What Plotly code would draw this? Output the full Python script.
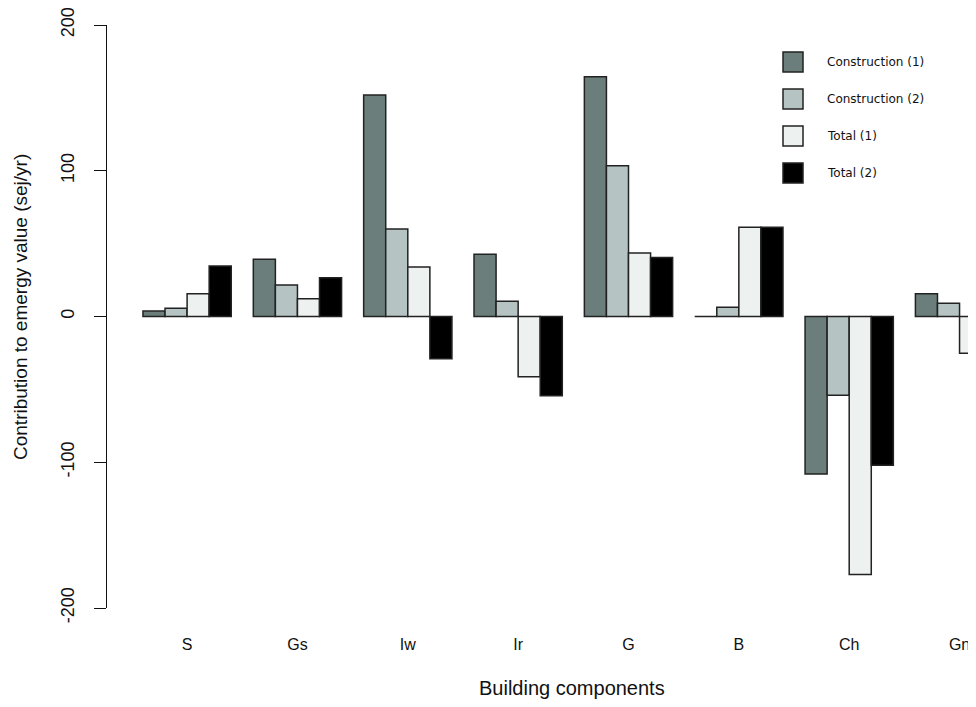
import plotly.graph_objects as go

categories = ["S", "Gs", "Iw", "Ir", "G", "B", "Ch", "Gn"]
construction_1 = [3.7, 39.2, 152, 42.7, 164.5, 0, -108, 15.6]
construction_2 = [5.6, 21.6, 60, 10.4, 103.5, 6.3, -54, 9.1]
total_1 = [15.6, 12.2, 34, -41.3, 43.6, 61.2, -177, -25.2]
total_2 = [34.6, 26.6, -29, -54.3, 40.4, 61.2, -102, None]

y_tick_values = [-200, -100, 0, 100, 200]
y_tick_labels = ["-200", "-100", "0", "100", "200"]

series_names = ["Construction (1)", "Construction (2)", "Total (1)", "Total (2)"]
series_values = [construction_1, construction_2, total_1, total_2]
series_colors = ["#6b7e7b", "#b5c4c3", "#edf1ef", "#000000"]
outline = "#222222"

fig = go.Figure()
for name, vals, col in zip(series_names, series_values, series_colors):
    fig.add_trace(go.Bar(
        x=categories, y=vals, name=name,
        marker=dict(color=col, line=dict(color=outline, width=1.5)),
        showlegend=False,
    ))

# the page body has an 8px margin (left/top); the figure sits at page (8, 8)
OFF = 8
W, H = 976 - OFF, 707 - 2 * OFF
PL, PT, PB = 107, 25, 608          # page pixels of plot area
PR = OFF + W                        # right edge of plot area (page px)

def px(xp):
    return (xp - PL) / (PR - PL)

def py(yp):
    return (PB - yp) / (PB - PT)

# x range so that category spacing matches the reference (110.35 px per group,
# first group centred at page x = 187)
unit = 110.35
x0 = (PL - 187.1) / unit
x1 = (PR - 187.1) / unit

# manual legend
leg_y = [62, 99, 136, 173]
shapes = []
annotations = []
for name, col, yc in zip(series_names, series_colors, leg_y):
    shapes.append(dict(type="rect", xref="paper", yref="paper",
                       x0=px(783), x1=px(803), y0=py(yc + 10), y1=py(yc - 10),
                       fillcolor=col, line=dict(color=outline, width=1.5)))
    annotations.append(dict(text=name, xref="paper", yref="paper",
                            x=px(825), y=py(yc), xanchor="left", yanchor="middle",
                            showarrow=False,
                            font=dict(family="DejaVu Sans", size=12, color="#111")))

annotations.append(dict(text="Contribution to emergy value (sej/yr)", xref="paper", yref="paper",
                        x=px(20), y=py(307), xanchor="center", yanchor="middle",
                        textangle=-90, showarrow=False,
                        font=dict(family="Liberation Sans", size=19, color="#111")))
annotations.append(dict(text="Building components", xref="paper", yref="paper",
                        x=px(572), y=py(688), xanchor="center", yanchor="middle",
                        showarrow=False,
                        font=dict(family="Liberation Sans", size=20, color="#111")))

fig.update_layout(
    width=W, height=H,
    margin=dict(l=PL - OFF, r=0, t=PT - OFF, b=H - (PB - OFF), autoexpand=False),
    paper_bgcolor="white", plot_bgcolor="white",
    barmode="group", bargap=0.2, bargroupgap=0,
    shapes=shapes, annotations=annotations,
    font=dict(family="Liberation Sans", color="#111"),
)
fig.update_xaxes(
    type="category", range=[x0, x1], automargin=False,
    showline=False, showgrid=False, zeroline=False, ticks="",
    tickfont=dict(size=16, color="#111"), ticklabelstandoff=25,
    ticklabeloverflow="allow",
)
fig.update_yaxes(
    range=[-200, 200], tickvals=y_tick_values, ticktext=y_tick_labels,
    automargin=False,
    showline=True, linecolor="#111", linewidth=1,
    ticks="outside", ticklen=12, tickcolor="#111", tickwidth=1,
    showgrid=False, zeroline=False, tickangle=-90,
    tickfont=dict(size=18, color="#111"), ticklabelstandoff=13,
    ticklabeloverflow="allow",
)

fig.write_html("out.html")
